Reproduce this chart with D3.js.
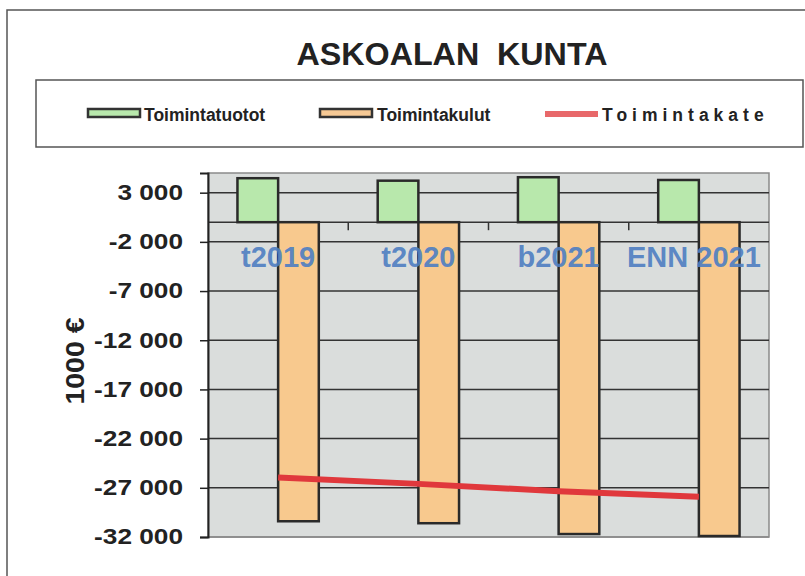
<!DOCTYPE html>
<html>
<head>
<meta charset="utf-8">
<script src="https://cdn.jsdelivr.net/npm/d3@7"></script>
<style>
  body { margin: 0; background: #fff; }
  svg { display: block; font-family: "Liberation Sans", Arial, sans-serif; }
</style>
</head>
<body>
<svg id="chart" width="805" height="576"></svg>
<script>
// data (1000 €)
const categories = ["t2019", "t2020", "b2021", "ENN 2021"];
const tuotot = [4470, 4220, 4570, 4290];
const kulut = [-30400, -30600, -31700, -31900];
const kate = [-25950, -26600, -27350, -27900];
const yTicks = d3.range(-32000, 3001, 5000);

const svg = d3.select("#chart");

const locale = d3.formatLocale({decimal: ",", thousands: " ", grouping: [3], currency: ["", " €"], minus: "-"});
const fmt = locale.format(",d");

const plot = {left: 208, right: 769, top: 173, bottom: 537};

const x = d3.scaleBand()
	.domain(categories)
	.range([plot.left, plot.right]);

const y = d3.scaleLinear()
	.domain([-32000, 5000])
	.range([plot.bottom, plot.top]);

const barW = x.bandwidth() * 0.29;
const center = d => x(d) + x.bandwidth() / 2;

// outer frame and legend box
svg.append("rect")
	.attr("x", 7).attr("y", 10)
	.attr("width", 805).attr("height", 600)
	.attr("fill", "none").attr("stroke", "#555").attr("stroke-width", 1.5);

svg.append("text")
	.attr("transform", "translate(452,65) scale(1.04,1)")
	.attr("text-anchor", "middle")
	.style("font-size", "31px").style("font-weight", "bold")
	.attr("fill", "#222")
	.attr("xml:space", "preserve")
	.text("ASKOALAN  KUNTA");

svg.append("rect")
	.attr("x", 36).attr("y", 80)
	.attr("width", 767).attr("height", 67)
	.attr("fill", "none").attr("stroke", "#555").attr("stroke-width", 1.5);

const legend = svg.append("g")
	.style("font-size", "17.5px").style("font-weight", "bold");
legend.append("rect")
	.attr("x", 88).attr("y", 109).attr("width", 52).attr("height", 8)
	.attr("fill", "#b8e8ac").attr("stroke", "#333").attr("stroke-width", 2.5);
legend.append("text")
	.attr("x", 144).attr("y", 121)
	.attr("fill", "#222")
	.text("Toimintatuotot");
legend.append("rect")
	.attr("x", 320).attr("y", 109).attr("width", 52).attr("height", 8)
	.attr("fill", "#f6c995").attr("stroke", "#333").attr("stroke-width", 2.5);
legend.append("text")
	.attr("x", 377).attr("y", 121)
	.attr("fill", "#222")
	.text("Toimintakulut");
legend.append("line")
	.attr("x1", 545).attr("x2", 598).attr("y1", 114).attr("y2", 114)
	.attr("stroke", "#e8686a").attr("stroke-width", 6);
legend.append("text")
	.attr("x", 602).attr("y", 121)
	.attr("fill", "#222")
	.style("letter-spacing", "5px")
	.text("Toimintakate");

// plot area
svg.append("rect")
	.attr("x", plot.left).attr("y", plot.top)
	.attr("width", plot.right - plot.left).attr("height", plot.bottom - plot.top)
	.attr("fill", "#dadddc").attr("stroke", "#8a8a8a").attr("stroke-width", 1.5);

// gridlines
svg.append("g")
	.selectAll("line")
	.data(yTicks.concat([0]))
	.enter().append("line")
	.attr("x1", plot.left).attr("x2", plot.right)
	.attr("y1", d => y(d)).attr("y2", d => y(d))
	.attr("stroke", d => d === -32000 ? "#888" : "#333")
	.attr("stroke-width", 1.5);

// value axis
const labelScale = 1.22;
const yAxis = svg.append("g")
	.attr("transform", "translate(" + plot.left + ",0)")
	.call(d3.axisLeft(y).tickValues(yTicks).tickFormat(fmt).tickSize(8));
yAxis.select(".domain").attr("stroke", "#222").attr("stroke-width", 2);
yAxis.selectAll(".tick line").attr("stroke", "#222").attr("stroke-width", 1.5);
yAxis.selectAll(".tick text")
	.attr("x", -25 / labelScale)
	.attr("transform", "scale(" + labelScale + ",1)")
	.style("font-size", "21.5px").style("font-weight", "bold")
	.attr("fill", "#222")
	.attr("font-family", "Liberation Sans, Arial, sans-serif");

svg.append("text")
	.attr("transform", "translate(84,361) rotate(-90) scale(1.14,1)")
	.attr("text-anchor", "middle")
	.style("font-size", "25px").style("font-weight", "bold").attr("fill", "#222")
	.text("1000 €");

// category axis ticks on the zero line
svg.append("g")
	.selectAll("line")
	.data(categories.slice(1))
	.enter().append("line")
	.attr("x1", d => x(d)).attr("x2", d => x(d))
	.attr("y1", y(0)).attr("y2", y(0) + 8)
	.attr("stroke", "#333").attr("stroke-width", 1.5);

// bars
svg.append("g")
	.selectAll("rect")
	.data(categories)
	.enter().append("rect")
	.attr("x", d => center(d) - barW)
	.attr("y", (d, i) => y(tuotot[i]))
	.attr("width", barW)
	.attr("height", (d, i) => y(0) - y(tuotot[i]))
	.attr("fill", "#b8e8ac").attr("stroke", "#2a2a2a").attr("stroke-width", 2.5);

svg.append("g")
	.selectAll("rect")
	.data(categories)
	.enter().append("rect")
	.attr("x", d => center(d))
	.attr("y", y(0))
	.attr("width", barW)
	.attr("height", (d, i) => y(kulut[i]) - y(0))
	.attr("fill", "#f8c98e").attr("stroke", "#2a2a2a").attr("stroke-width", 2.5);

// Toimintakate line
const line = d3.line()
	.x((d, i) => center(categories[i]))
	.y(d => y(d));
svg.append("path")
	.datum(kate)
	.attr("d", line)
	.attr("fill", "none")
	.attr("stroke", "#e0383c").attr("stroke-width", 6);

// category labels
svg.append("g")
	.selectAll("text")
	.data(categories)
	.enter().append("text")
	.attr("x", d => center(d) - (d === "ENN 2021" ? 5 : 0))
	.attr("y", 267)
	.attr("text-anchor", "middle")
	.style("font-size", "29px").style("font-weight", "bold")
	.attr("fill", "#4f7fc2").attr("fill-opacity", 0.92)
	.text(d => d);
</script>
</body>
</html>
